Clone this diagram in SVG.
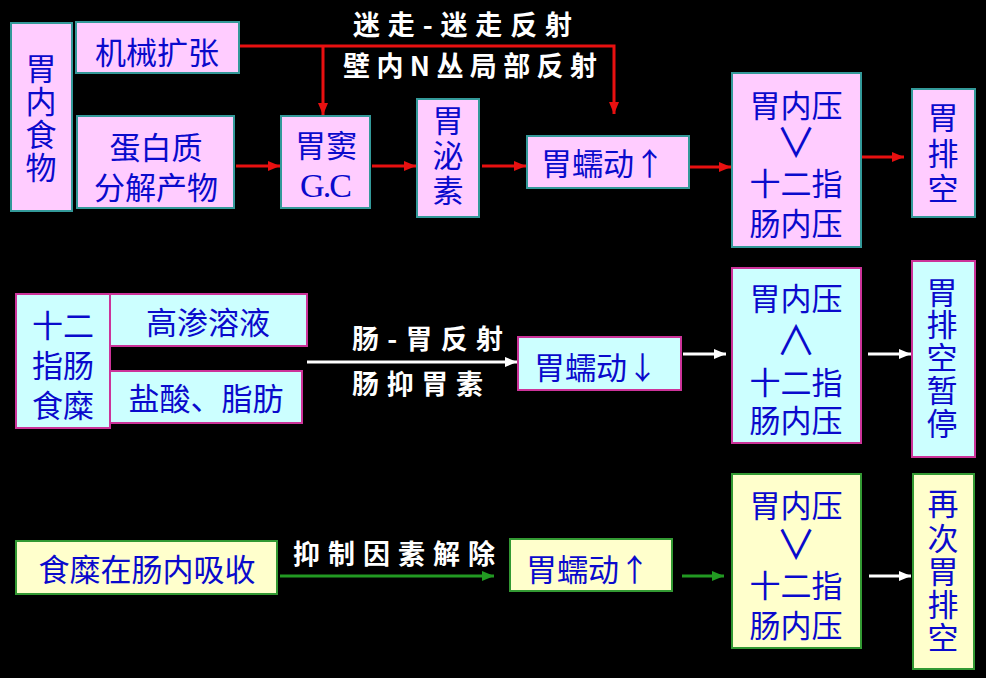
<svg xmlns="http://www.w3.org/2000/svg" width="986" height="678" viewBox="0 0 986 678">
<style>
.pk{fill:#FFCCFF;stroke:#339999;stroke-width:2}
.cy{fill:#CCFFFF;stroke:#CC3399;stroke-width:2}
.yl{fill:#FFFFCC;stroke:#339933;stroke-width:2}
.t{font-family:"Noto Sans CJK SC","Liberation Sans",sans-serif;font-size:31px;fill:#0A0ACC;text-anchor:middle}
.op{font-size:40px}
.w{font-family:"Noto Sans CJK SC","Liberation Sans",sans-serif;font-size:27px;font-weight:bold;fill:#FFFFFF}
.r{stroke:#E81010;stroke-width:3;fill:none;marker-end:url(#ar)}
.wh{stroke:#FFFFFF;stroke-width:3;fill:none;marker-end:url(#aw)}
.g{stroke:#229922;stroke-width:3;fill:none;marker-end:url(#ag)}
</style>
<defs>
<marker id="ar" markerUnits="userSpaceOnUse" markerWidth="12" markerHeight="10" refX="12" refY="5" orient="auto"><path d="M0,0 L12,5 L0,10 z" fill="#E81010"/></marker>
<marker id="aw" markerUnits="userSpaceOnUse" markerWidth="12" markerHeight="10" refX="12" refY="5" orient="auto"><path d="M0,0 L12,5 L0,10 z" fill="#FFFFFF"/></marker>
<marker id="ag" markerUnits="userSpaceOnUse" markerWidth="12" markerHeight="10" refX="12" refY="5" orient="auto"><path d="M0,0 L12,5 L0,10 z" fill="#229922"/></marker>
</defs>
<rect width="986" height="678" fill="#000000"/>

<g id="connectors">
<path class="r" d="M239,46 H614 V114"/>
<path class="r" d="M323,46 V115"/>
<line class="r" x1="236" y1="166" x2="280" y2="166"/>
<line class="r" x1="372" y1="166" x2="416" y2="166"/>
<line class="r" x1="482" y1="166" x2="526" y2="166"/>
<line class="r" x1="690" y1="167" x2="731" y2="167"/>
<line class="r" x1="862" y1="157" x2="904" y2="157"/>
<line class="wh" x1="307" y1="362" x2="517" y2="362"/>
<line class="wh" x1="683" y1="354" x2="726" y2="354"/>
<line class="wh" x1="868" y1="354" x2="911" y2="354"/>
<line class="g" x1="280" y1="576" x2="494" y2="576"/>
<line class="g" x1="682" y1="576" x2="724" y2="576"/>
<line class="wh" x1="869" y1="576" x2="911" y2="576"/>
<text class="w" x="353" y="35" textLength="219" lengthAdjust="spacing">迷走-迷走反射</text>
<text class="w" x="343" y="76" textLength="254" lengthAdjust="spacing">壁内N丛局部反射</text>
<text class="w" x="352" y="349" textLength="151" lengthAdjust="spacing">肠-胃反射</text>
<text class="w" x="352" y="394" textLength="131" lengthAdjust="spacing">肠抑胃素</text>
<text class="w" x="293" y="564" textLength="202" lengthAdjust="spacing">抑制因素解除</text>
</g>

<g id="n-food">
<rect class="pk" x="11" y="23" width="61" height="188"/>
<text class="t"><tspan x="41" y="80">胃</tspan><tspan x="41" y="113">内</tspan><tspan x="41" y="146">食</tspan><tspan x="41" y="179">物</tspan></text>
</g>
<g id="n-mech">
<rect class="pk" x="76" y="22" width="163" height="51"/>
<text class="t" x="157" y="64" font-size="32">机械扩张</text>
</g>
<g id="n-protein">
<rect class="pk" x="77" y="116" width="157" height="92"/>
<text class="t"><tspan x="156" y="159">蛋白质</tspan><tspan x="156" y="199">分解产物</tspan></text>
</g>
<g id="n-antrum">
<rect class="pk" x="281" y="116" width="89" height="92"/>
<text class="t" x="326" y="157">胃窦</text>
<text x="300" y="197" font-family="'Liberation Serif',serif" font-size="34" fill="#0A0ACC" textLength="52" lengthAdjust="spacing">G.C</text>
</g>
<g id="n-gastrin">
<rect class="pk" x="417" y="99" width="62" height="118"/>
<text class="t"><tspan x="448" y="132">胃</tspan><tspan x="448" y="167">泌</tspan><tspan x="448" y="202">素</tspan></text>
</g>
<g id="n-peri1">
<rect class="pk" x="527" y="136" width="162" height="52"/>
<text class="t" x="603" y="175">胃蠕动↑</text>
</g>
<g id="n-press1">
<rect class="pk" x="732" y="73" width="129" height="174"/>
<text class="t"><tspan x="796" y="117">胃内压</tspan><tspan x="796" y="157" class="op">∨</tspan><tspan x="796" y="195">十二指</tspan><tspan x="796" y="235">肠内压</tspan></text>
</g>
<g id="n-empty1">
<rect class="pk" x="912" y="89" width="63" height="128"/>
<text class="t"><tspan x="943" y="129">胃</tspan><tspan x="943" y="165">排</tspan><tspan x="943" y="200">空</tspan></text>
</g>

<g id="n-chyme">
<rect class="cy" x="16" y="294" width="94" height="134"/>
<text class="t"><tspan x="63" y="337">十二</tspan><tspan x="63" y="377">指肠</tspan><tspan x="63" y="417">食糜</tspan></text>
</g>
<g id="n-osm">
<rect class="cy" x="110" y="294" width="197" height="52"/>
<text class="t" x="208" y="334">高渗溶液</text>
</g>
<g id="n-acid">
<rect class="cy" x="110" y="371" width="192" height="52"/>
<text class="t" x="206" y="410">盐酸、脂肪</text>
</g>
<g id="n-peri2">
<rect class="cy" x="518" y="337" width="163" height="53"/>
<text class="t" x="596" y="379">胃蠕动↓</text>
</g>
<g id="n-press2">
<rect class="cy" x="732" y="268" width="129" height="175"/>
<text class="t"><tspan x="796" y="310">胃内压</tspan><tspan x="796" y="355" class="op">∧</tspan><tspan x="796" y="394">十二指</tspan><tspan x="796" y="432">肠内压</tspan></text>
</g>
<g id="n-pause">
<rect class="cy" x="912" y="261" width="63" height="196"/>
<text class="t"><tspan x="942" y="304">胃</tspan><tspan x="942" y="336">排</tspan><tspan x="942" y="369">空</tspan><tspan x="942" y="402">暂</tspan><tspan x="942" y="435">停</tspan></text>
</g>

<g id="n-absorb">
<rect class="yl" x="16" y="541" width="261" height="53"/>
<text class="t" x="147" y="581" font-size="32">食糜在肠内吸收</text>
</g>
<g id="n-peri3">
<rect class="yl" x="510" y="539" width="162" height="52"/>
<text class="t" x="588" y="581">胃蠕动↑</text>
</g>
<g id="n-press3">
<rect class="yl" x="732" y="474" width="129" height="174"/>
<text class="t"><tspan x="796" y="517">胃内压</tspan><tspan x="796" y="559" class="op">∨</tspan><tspan x="796" y="597">十二指</tspan><tspan x="796" y="637">肠内压</tspan></text>
</g>
<g id="n-empty2">
<rect class="yl" x="913" y="474" width="61" height="195"/>
<text class="t"><tspan x="943" y="515">再</tspan><tspan x="943" y="550">次</tspan><tspan x="943" y="583">胃</tspan><tspan x="943" y="616">排</tspan><tspan x="943" y="649">空</tspan></text>
</g>
</svg>
